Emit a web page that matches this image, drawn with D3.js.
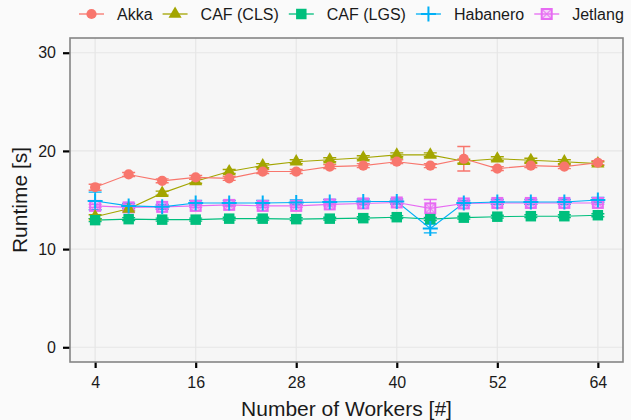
<!DOCTYPE html>
<html>
<head>
<meta charset="utf-8">
<script src="https://cdn.jsdelivr.net/npm/d3@7"></script>
<style>
  body { margin: 0; background: #fafafa; }
  svg { display: block; font-family: "Liberation Sans", Arial, sans-serif; }
</style>
</head>
<body>
<svg id="chart"></svg>
<script>
const workers = [4, 8, 12, 16, 20, 24, 28, 32, 36, 40, 44, 48, 52, 56, 60, 64];
const xTicks = [4, 16, 28, 40, 52, 64];
const yTicks = [0, 10, 20, 30];

const akka = [16.3, 17.6, 16.95, 17.3, 17.2, 17.9, 17.9, 18.4, 18.5, 18.9, 18.5, 19.2, 18.2, 18.5, 18.4, 18.8];
const akkaErr = [0.3, 0.2, 0.2, 0.2, 0.2, 0.2, 0.2, 0.2, 0.2, 0.2, 0.2, 1.25, 0.2, 0.2, 0.2, 0.2];
const cafCls = [13.3, 14.1, 15.7, 16.9, 17.9, 18.5, 18.9, 19.1, 19.3, 19.6, 19.6, 18.95, 19.2, 19.05, 18.9, 18.7];
const cafClsErr = [0.2, 0.2, 0.2, 0.2, 0.2, 0.2, 0.2, 0.2, 0.2, 0.2, 0.2, 0.2, 0.2, 0.2, 0.2, 0.2];
const cafLgs = [12.95, 13.05, 13.0, 13.0, 13.1, 13.1, 13.05, 13.1, 13.15, 13.25, 13.05, 13.2, 13.3, 13.35, 13.35, 13.45];
const cafLgsErr = [0.15, 0.15, 0.15, 0.15, 0.15, 0.15, 0.15, 0.15, 0.15, 0.15, 0.15, 0.15, 0.15, 0.15, 0.15, 0.15];
const habanero = [14.9, 14.4, 14.3, 14.7, 14.7, 14.7, 14.75, 14.8, 14.85, 14.85, 12.1, 14.7, 14.8, 14.8, 14.8, 15.0];
const habaneroErr = [0.9, 0.25, 0.25, 0.25, 0.25, 0.25, 0.25, 0.25, 0.25, 0.25, 0.45, 0.25, 0.25, 0.25, 0.25, 0.25];
const jetlang = [14.4, 14.25, 14.3, 14.4, 14.5, 14.4, 14.4, 14.55, 14.65, 14.75, 14.15, 14.65, 14.7, 14.7, 14.7, 14.7];
const jetlangErr = [0.15, 0.15, 0.15, 0.15, 0.15, 0.15, 0.15, 0.15, 0.15, 0.15, 0.9, 0.15, 0.15, 0.15, 0.15, 0.15];

const series = [
    { name: "Akka", values: akka, err: akkaErr, color: "#F8766D", shape: "circle" },
    { name: "CAF (CLS)", values: cafCls, err: cafClsErr, color: "#A3A500", shape: "triangle" },
    { name: "CAF (LGS)", values: cafLgs, err: cafLgsErr, color: "#00BF7D", shape: "square" },
    { name: "Habanero", values: habanero, err: habaneroErr, color: "#00B0F6", shape: "cross" },
    { name: "Jetlang", values: jetlang, err: jetlangErr, color: "#E76BF3", shape: "boxx" },
];
// drawing order of the layers (lowest first)
const drawOrder = ["Jetlang", "CAF (CLS)", "Akka", "CAF (LGS)", "Habanero"];

const width = 631, height = 420;
const panel = { left: 70, right: 623, top: 38, bottom: 362 };

const svg = d3.select("#chart").attr("width", width).attr("height", height);
svg.append("rect").attr("width", width).attr("height", height).attr("fill", "#fafafa");

const x = d3.scaleLinear().domain([1, 67]).range([panel.left, panel.right]);
const y = d3.scaleLinear().domain([-1.5, 31.5]).range([panel.bottom, panel.top]);

svg.append("rect")
    .attr("x", panel.left).attr("y", panel.top)
    .attr("width", panel.right - panel.left).attr("height", panel.bottom - panel.top)
    .attr("fill", "#f6f6f6");

// grid
svg.append("g").selectAll("line").data(xTicks).join("line")
    .attr("x1", d => x(d)).attr("x2", d => x(d))
    .attr("y1", panel.top).attr("y2", panel.bottom)
    .attr("stroke", "#e6e6e6").attr("stroke-width", 1.2);
svg.append("g").selectAll("line").data(yTicks).join("line")
    .attr("x1", panel.left).attr("x2", panel.right)
    .attr("y1", d => y(d)).attr("y2", d => y(d))
    .attr("stroke", "#e6e6e6").attr("stroke-width", 1.2);

// axes
const xAxis = svg.append("g")
    .attr("transform", `translate(0,${panel.bottom})`)
    .call(d3.axisBottom(x).tickValues(xTicks).tickSize(6).tickPadding(9));
const yAxis = svg.append("g")
    .attr("transform", `translate(${panel.left},0)`)
    .call(d3.axisLeft(y).tickValues(yTicks).tickSize(7).tickPadding(7));
[xAxis, yAxis].forEach(a => {
    a.select(".domain").remove();
    a.selectAll(".tick line").attr("stroke", "#000").attr("stroke-width", 2.2);
    a.selectAll(".tick text").attr("fill", "#1a1a1a").attr("font-size", 16)
        .attr("font-family", "Liberation Sans, Arial, sans-serif");
});

const line = d3.line().x((d, i) => x(workers[i])).y(d => y(d));

const symbolPath = {
    circle: d3.symbol(d3.symbolCircle, 82)(),
    triangle: d3.symbol(d3.symbolTriangle, 75)(),
    square: d3.symbol(d3.symbolSquare, 110)(),
};

function drawMarker(g, shape, color, cx, cy) {
    if (shape === "cross") {
        g.append("path")
            .attr("d", `M${cx - 7.5},${cy}H${cx + 7.5}M${cx},${cy - 7.5}V${cy + 7.5}`)
            .attr("stroke", color).attr("stroke-width", 2).attr("fill", "none");
    } else if (shape === "boxx") {
        const s = 5;
        g.append("rect")
            .attr("x", cx - s).attr("y", cy - s).attr("width", 2 * s).attr("height", 2 * s)
            .attr("fill", color).attr("fill-opacity", 0.25)
            .attr("stroke", color).attr("stroke-width", 2);
        g.append("path")
            .attr("d", `M${cx - s},${cy - s}L${cx + s},${cy + s}M${cx + s},${cy - s}L${cx - s},${cy + s}`)
            .attr("stroke", color).attr("stroke-width", 1.3).attr("opacity", 0.7);
    } else {
        g.append("path")
            .attr("d", symbolPath[shape])
            .attr("transform", `translate(${cx},${cy})`)
            .attr("fill", color);
    }
}

const ordered = drawOrder.map(n => series.find(s => s.name === n));

// error bars
ordered.forEach(s => {
    const g = svg.append("g").attr("stroke", s.color).attr("stroke-width", 1.4).attr("fill", "none");
    s.values.forEach((v, i) => {
        const cx = x(workers[i]);
        const y1 = y(v - s.err[i]), y2 = y(v + s.err[i]);
        g.append("path")
            .attr("d", `M${cx},${y1}V${y2}M${cx - 6.5},${y1}H${cx + 6.5}M${cx - 6.5},${y2}H${cx + 6.5}`);
    });
});

// lines
ordered.forEach(s => {
    svg.append("path")
        .datum(s.values)
        .attr("d", line)
        .attr("fill", "none")
        .attr("stroke", s.color)
        .attr("stroke-width", 1.1);
});

// points
ordered.forEach(s => {
    const g = svg.append("g");
    s.values.forEach((v, i) => drawMarker(g, s.shape, s.color, x(workers[i]), y(v)));
});

// panel border
svg.append("rect")
    .attr("x", panel.left).attr("y", panel.top)
    .attr("width", panel.right - panel.left).attr("height", panel.bottom - panel.top)
    .attr("fill", "none").attr("stroke", "#858585").attr("stroke-width", 1.6);

// axis titles
svg.append("text")
    .attr("x", (panel.left + panel.right) / 2).attr("y", 416)
    .attr("text-anchor", "middle").attr("font-size", 21).attr("fill", "#1a1a1a")
    .text("Number of Workers [#]");
svg.append("text")
    .attr("transform", `translate(27,${(panel.top + panel.bottom) / 2}) rotate(-90)`)
    .attr("text-anchor", "middle").attr("font-size", 21).attr("fill", "#1a1a1a")
    .text("Runtime [s]");

// legend
const legend = svg.append("g");
let lx = 79;
const ly = 14;
series.forEach(s => {
    const g = legend.append("g");
    g.append("line")
        .attr("x1", lx).attr("x2", lx + 25).attr("y1", ly).attr("y2", ly)
        .attr("stroke", s.color).attr("stroke-width", 1.3);
    drawMarker(g, s.shape, s.color, lx + 12.5, ly);
    const t = g.append("text")
        .attr("x", lx + 38).attr("y", ly + 6)
        .attr("font-size", 16).attr("fill", "#1a1a1a")
        .text(s.name);
    lx = lx + 38 + t.node().getComputedTextLength() + 10;
});
</script>
</body>
</html>
